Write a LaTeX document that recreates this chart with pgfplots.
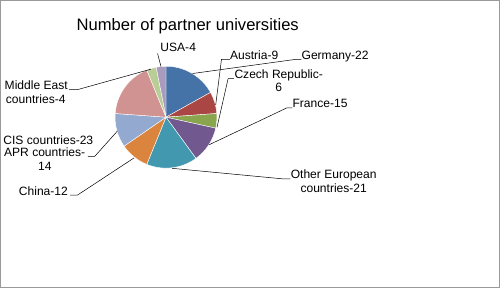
\documentclass[border=0pt]{standalone}
\usepackage{pgfplots}
\pgfplotsset{compat=1.18}
\usepackage{pgfplotstable}
\usepackage{fontspec}
\setmainfont{Liberation Sans}

\definecolor{c1}{HTML}{4572A7}
\definecolor{c2}{HTML}{AA4643}
\definecolor{c3}{HTML}{89A54E}
\definecolor{c4}{HTML}{71588F}
\definecolor{c5}{HTML}{4198AF}
\definecolor{c6}{HTML}{DB843D}
\definecolor{c7}{HTML}{93A9CF}
\definecolor{c8}{HTML}{D19392}
\definecolor{c9}{HTML}{B9CD96}
\definecolor{c10}{HTML}{A99BBD}

\pgfplotstableread{
name v
Germany 22
Austria 9
Czech 6
France 15
OtherEU 21
China 12
APR 14
CIS 23
MiddleEast 4
USA 4
}\pietable

\begin{document}
\begin{tikzpicture}
\begin{axis}[width=500bp,height=289bp,scale only axis,
  xmin=0,xmax=500,ymin=0,ymax=289,y dir=reverse,
  axis lines=none,clip=false]
\pgfplotsextra{%
  \gdef\pietotal{0}%
  \foreach \i in {0,...,9}{%
    \pgfplotstablegetelem{\i}{v}\of\pietable
    \pgfmathsetmacro\tmp{\pietotal+\pgfplotsretval}%
    \xdef\pietotal{\tmp}%
  }%
  \gdef\cumsum{0}%
  \foreach \i/\col in {0/c1,1/c2,2/c3,3/c4,4/c5,5/c6,6/c7,7/c8,8/c9,9/c10}{%
    \pgfplotstablegetelem{\i}{v}\of\pietable
    \pgfmathsetmacro\sa{90-\cumsum/\pietotal*360}%
    \pgfmathsetmacro\newcum{\cumsum+\pgfplotsretval}%
    \xdef\cumsum{\newcum}%
    \pgfmathsetmacro\ea{90-\cumsum/\pietotal*360}%
    \fill[\col,draw=white,line width=0.4bp] (axis cs:166.7,118.3) -- ++(\sa:50.5bp)
      arc[start angle=\sa,end angle=\ea,radius=50.5bp] -- cycle;
  }%
}
% border
\draw[gray!80,line width=0.8bp] (axis cs:2.5,2.5) rectangle (axis cs:497.5,286.8);
% title
\node[anchor=base west,inner sep=0] at (axis cs:78,32.3) {\fontsize{16.5}{19}\selectfont Number of partner universities};
% labels
\begin{scope}[every node/.style={inner sep=0,font=\fontsize{12}{14}\selectfont}]
\node[anchor=base west] at (axis cs:161,53.3) {USA-4};
\node[anchor=base west] at (axis cs:230,61) {Austria-9};
\node[anchor=base west] at (axis cs:301,61) {Germany-22};
\node[anchor=base] at (axis cs:278.5,80) {Czech Republic-};
\node[anchor=base] at (axis cs:278.5,93.3) {6};
\node[anchor=base west] at (axis cs:292,109) {France-15};
\node[anchor=base] at (axis cs:333,179) {Other European};
\node[anchor=base] at (axis cs:333,192.7) {countries-21};
\node[anchor=base west] at (axis cs:20.7,195.7) {China-12};
\node[anchor=base west] at (axis cs:6,157.2) {APR countries-};
\node[anchor=base] at (axis cs:46.5,170.9) {14};
\node[anchor=base west] at (axis cs:5.3,145.6) {CIS countries-23};
\node[anchor=base] at (axis cs:38,90.7) {Middle East};
\node[anchor=base] at (axis cs:37.5,104.7) {countries-4};
\end{scope}
% leader lines
\begin{scope}[black,line width=0.5bp]
\draw (axis cs:158.3,55) -- (axis cs:161.7,68);
\draw (axis cs:301,61) -- (axis cs:295,61) -- (axis cs:193,75);
\draw (axis cs:230,61) -- (axis cs:221.7,61) -- (axis cs:216,106);
\draw (axis cs:234,80) -- (axis cs:228.3,80) -- (axis cs:217.3,128.3);
\draw (axis cs:292,109) -- (axis cs:286.7,109) -- (axis cs:209.3,145.7);
\draw (axis cs:290,179.5) -- (axis cs:283,179.5) -- (axis cs:172.7,169);
\draw (axis cs:71.7,195.7) -- (axis cs:78.7,195.7) -- (axis cs:135,158.7);
\draw (axis cs:89.3,157.2) -- (axis cs:96,157.2) -- (axis cs:118.3,132.3);
\draw (axis cs:70.7,90.7) -- (axis cs:80,90.7) -- (axis cs:151.7,70.7);
\end{scope}
\end{axis}
\end{tikzpicture}
\end{document}
